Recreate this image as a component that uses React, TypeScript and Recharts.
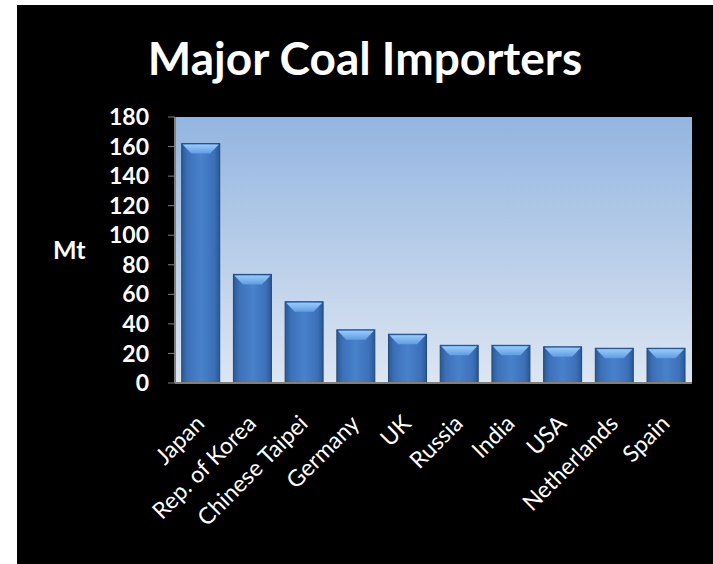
import React from 'react';
import { BarChart, Bar, XAxis, YAxis, CartesianGrid, Label } from 'recharts';

const countries = ['Japan', 'Rep. of Korea', 'Chinese Taipei', 'Germany', 'UK', 'Russia', 'India', 'USA', 'Netherlands', 'Spain'];
const imports = [162, 73.5, 55, 36, 33, 25.5, 25.5, 24.5, 23.5, 23.5];
const yTicks = [0, 20, 40, 60, 80, 100, 120, 140, 160, 180];
const title = 'Major Coal Importers';
const unitLabel = 'Mt';

const data = countries.map((c, i) => ({ name: c, value: imports[i] }));

const FONT = 'Lato, "Open Sans", sans-serif';

const BevelBar = (props: any) => {
  const { x, y, width, height } = props;
  if (!height || height <= 0) return null;
  const bw = Math.min(10, width / 4);
  const bh = Math.min(10, height / 2);
  return (
    <g>
      <rect x={x} y={y} width={width} height={height} fill="url(#barBody)" stroke="#23487c" strokeWidth={1} />
      <polygon
        points={`${x + 1},${y + 1} ${x + width - 1},${y + 1} ${x + width - bw},${y + bh} ${x + bw},${y + bh}`}
        fill="url(#barTop)"
      />
    </g>
  );
};

const XTick = (props: any) => {
  const { x, y, payload } = props;
  const ax = x + 5;
  const ay = y + 42;
  return (
    <text
      x={ax}
      y={ay}
      textAnchor="end"
      transform={`rotate(-45 ${ax} ${ay})`}
      fill="#ffffff"
      fontSize={23}
      fontFamily={FONT}
    >
      {payload.value}
    </text>
  );
};

export default function App() {
  return (
    <div style={{ position: 'absolute', left: 0, top: 0, width: 713, height: 564, background: '#ffffff' }}>
      <div style={{ position: 'absolute', left: 17, top: 5, width: 696, height: 559, background: '#000000' }}>
        <BarChart
          width={696}
          height={559}
          data={data}
          margin={{ top: 112, right: 21, bottom: 0, left: 0 }}
          barCategoryGap="13%"
        >
          <defs>
            <linearGradient id="plotBg" x1="0" y1="0" x2="0" y2="1">
              <stop offset="0%" stopColor="#93b5e0" />
              <stop offset="100%" stopColor="#dde6f2" />
            </linearGradient>
            <linearGradient id="barBody" x1="0" y1="0" x2="1" y2="0">
              <stop offset="0%" stopColor="#2a5894" />
              <stop offset="15%" stopColor="#3c71b9" />
              <stop offset="50%" stopColor="#4981cb" />
              <stop offset="85%" stopColor="#3c71b9" />
              <stop offset="100%" stopColor="#2a5894" />
            </linearGradient>
            <linearGradient id="barTop" x1="0" y1="0" x2="0" y2="1">
              <stop offset="0%" stopColor="#9acbf7" />
              <stop offset="100%" stopColor="#5f9ce3" />
            </linearGradient>
          </defs>
          <CartesianGrid horizontal={false} vertical={false} fill="url(#plotBg)" fillOpacity={1} />
          <XAxis
            dataKey="name"
            height={181}
            interval={0}
            tick={<XTick />}
            tickLine={false}
            tickSize={0}
            tickMargin={0}
            axisLine={{ stroke: '#7f7f7f', strokeWidth: 2 }}
          />
          <YAxis
            width={158}
            domain={[0, 180]}
            ticks={yTicks}
            interval={0}
            tickSize={7}
            tickMargin={19}
            tick={{ fill: '#ffffff', fontSize: 23, fontWeight: 700, fontFamily: FONT }}
            tickLine={{ stroke: '#7f7f7f' }}
            axisLine={{ stroke: '#7f7f7f', strokeWidth: 2 }}
          >
            <Label
              value={unitLabel}
              position="insideLeft"
              offset={36}
              fill="#ffffff"
              fontSize={25}
              fontWeight={700}
              fontFamily={FONT}
            />
          </YAxis>
          <Bar dataKey="value" shape={<BevelBar />} isAnimationActive={false} />
        </BarChart>
        <svg style={{ position: 'absolute', left: 0, top: 0 }} width={696} height={100}>
          <text x={348} y={70} textAnchor="middle" fill="#ffffff" fontSize={46} fontWeight={700} fontFamily={FONT}>
            {title}
          </text>
        </svg>
      </div>
    </div>
  );
}
